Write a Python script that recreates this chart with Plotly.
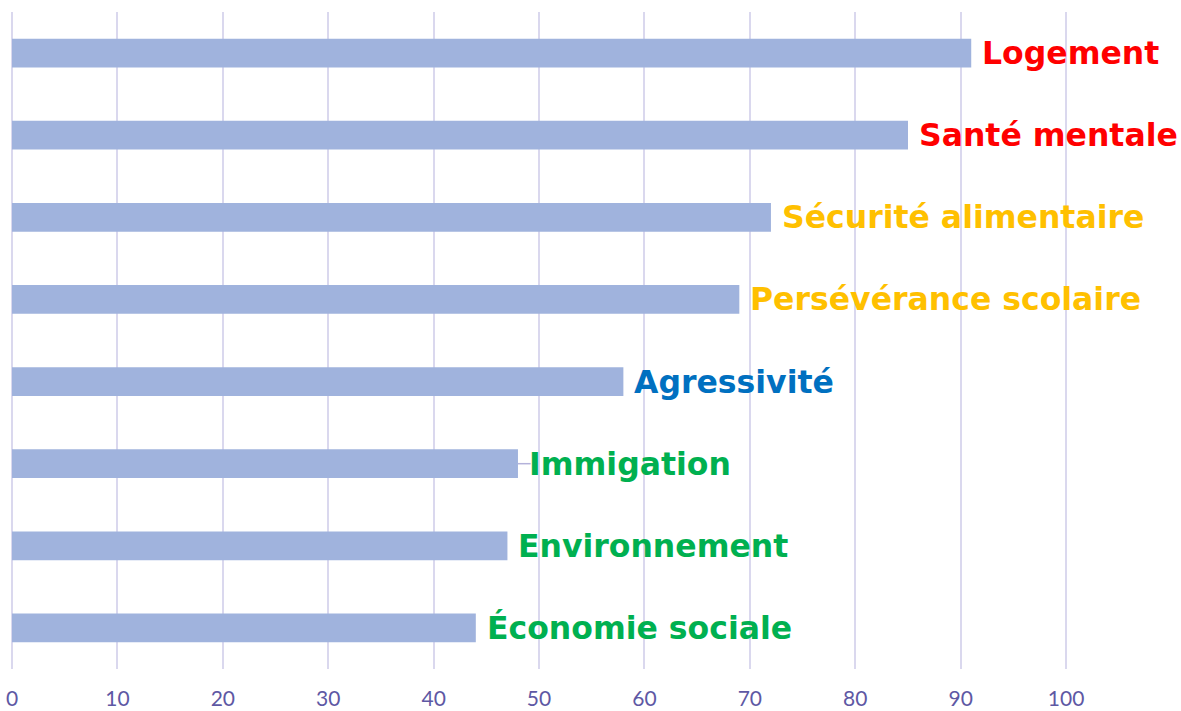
import plotly.graph_objects as go

categories = ["Logement", "Santé mentale", "Sécurité alimentaire", "Persévérance scolaire",
              "Agressivité", "Immigation", "Environnement", "Économie sociale"]
values = [91, 85, 72, 69, 58, 48, 47, 44]
errors = [0, 0, 0, 0, 0, 1.2, 0, 0]
label_colors = ["#FF0000", "#FF0000", "#FFC000", "#FFC000",
                "#0070C0", "#00B050", "#00B050", "#00B050"]
tick_vals = [0, 10, 20, 30, 40, 50, 60, 70, 80, 90, 100]

fig = go.Figure()
fig.add_trace(go.Bar(
    x=values, y=categories, orientation="h",
    marker=dict(color="#A0B3DD", line=dict(width=0)),
    width=0.35,
    error_x=dict(type="data", array=errors, symmetric=False, arrayminus=[0]*len(values),
                 color="#B4B2DA", thickness=1.5, width=0),
    hoverinfo="x+y",
))

for c, v, col in zip(categories, values, label_colors):
    fig.add_annotation(x=v, y=c, text="<b>%s</b>" % c, showarrow=False,
                       xanchor="left", yanchor="middle", xshift=9,
                       font=dict(family="DejaVu Sans", size=31.5, color=col))

fig.update_layout(
    width=1181, height=711,
    margin=dict(l=12, r=0, t=12, b=42),
    paper_bgcolor="white", plot_bgcolor="white",
    showlegend=False,
    xaxis=dict(range=[0, 110.9], tickvals=tick_vals, showgrid=True,
               gridcolor="#DAD8EE", gridwidth=2,
               zeroline=True, zerolinecolor="#DAD8EE", zerolinewidth=2,
               showline=False, ticks="", ticklabelstandoff=15,
               ticklabeloverflow="allow",
               tickfont=dict(family="Lato", size=21, color="#5E58A4")),
    yaxis=dict(categoryorder="array", categoryarray=categories[::-1],
               showticklabels=False, showgrid=False, zeroline=False, showline=False),
)

fig.write_html("out.html", config={"displayModeBar": False},
               post_script="document.body.style.margin='0px';document.body.style.overflow='hidden';")
